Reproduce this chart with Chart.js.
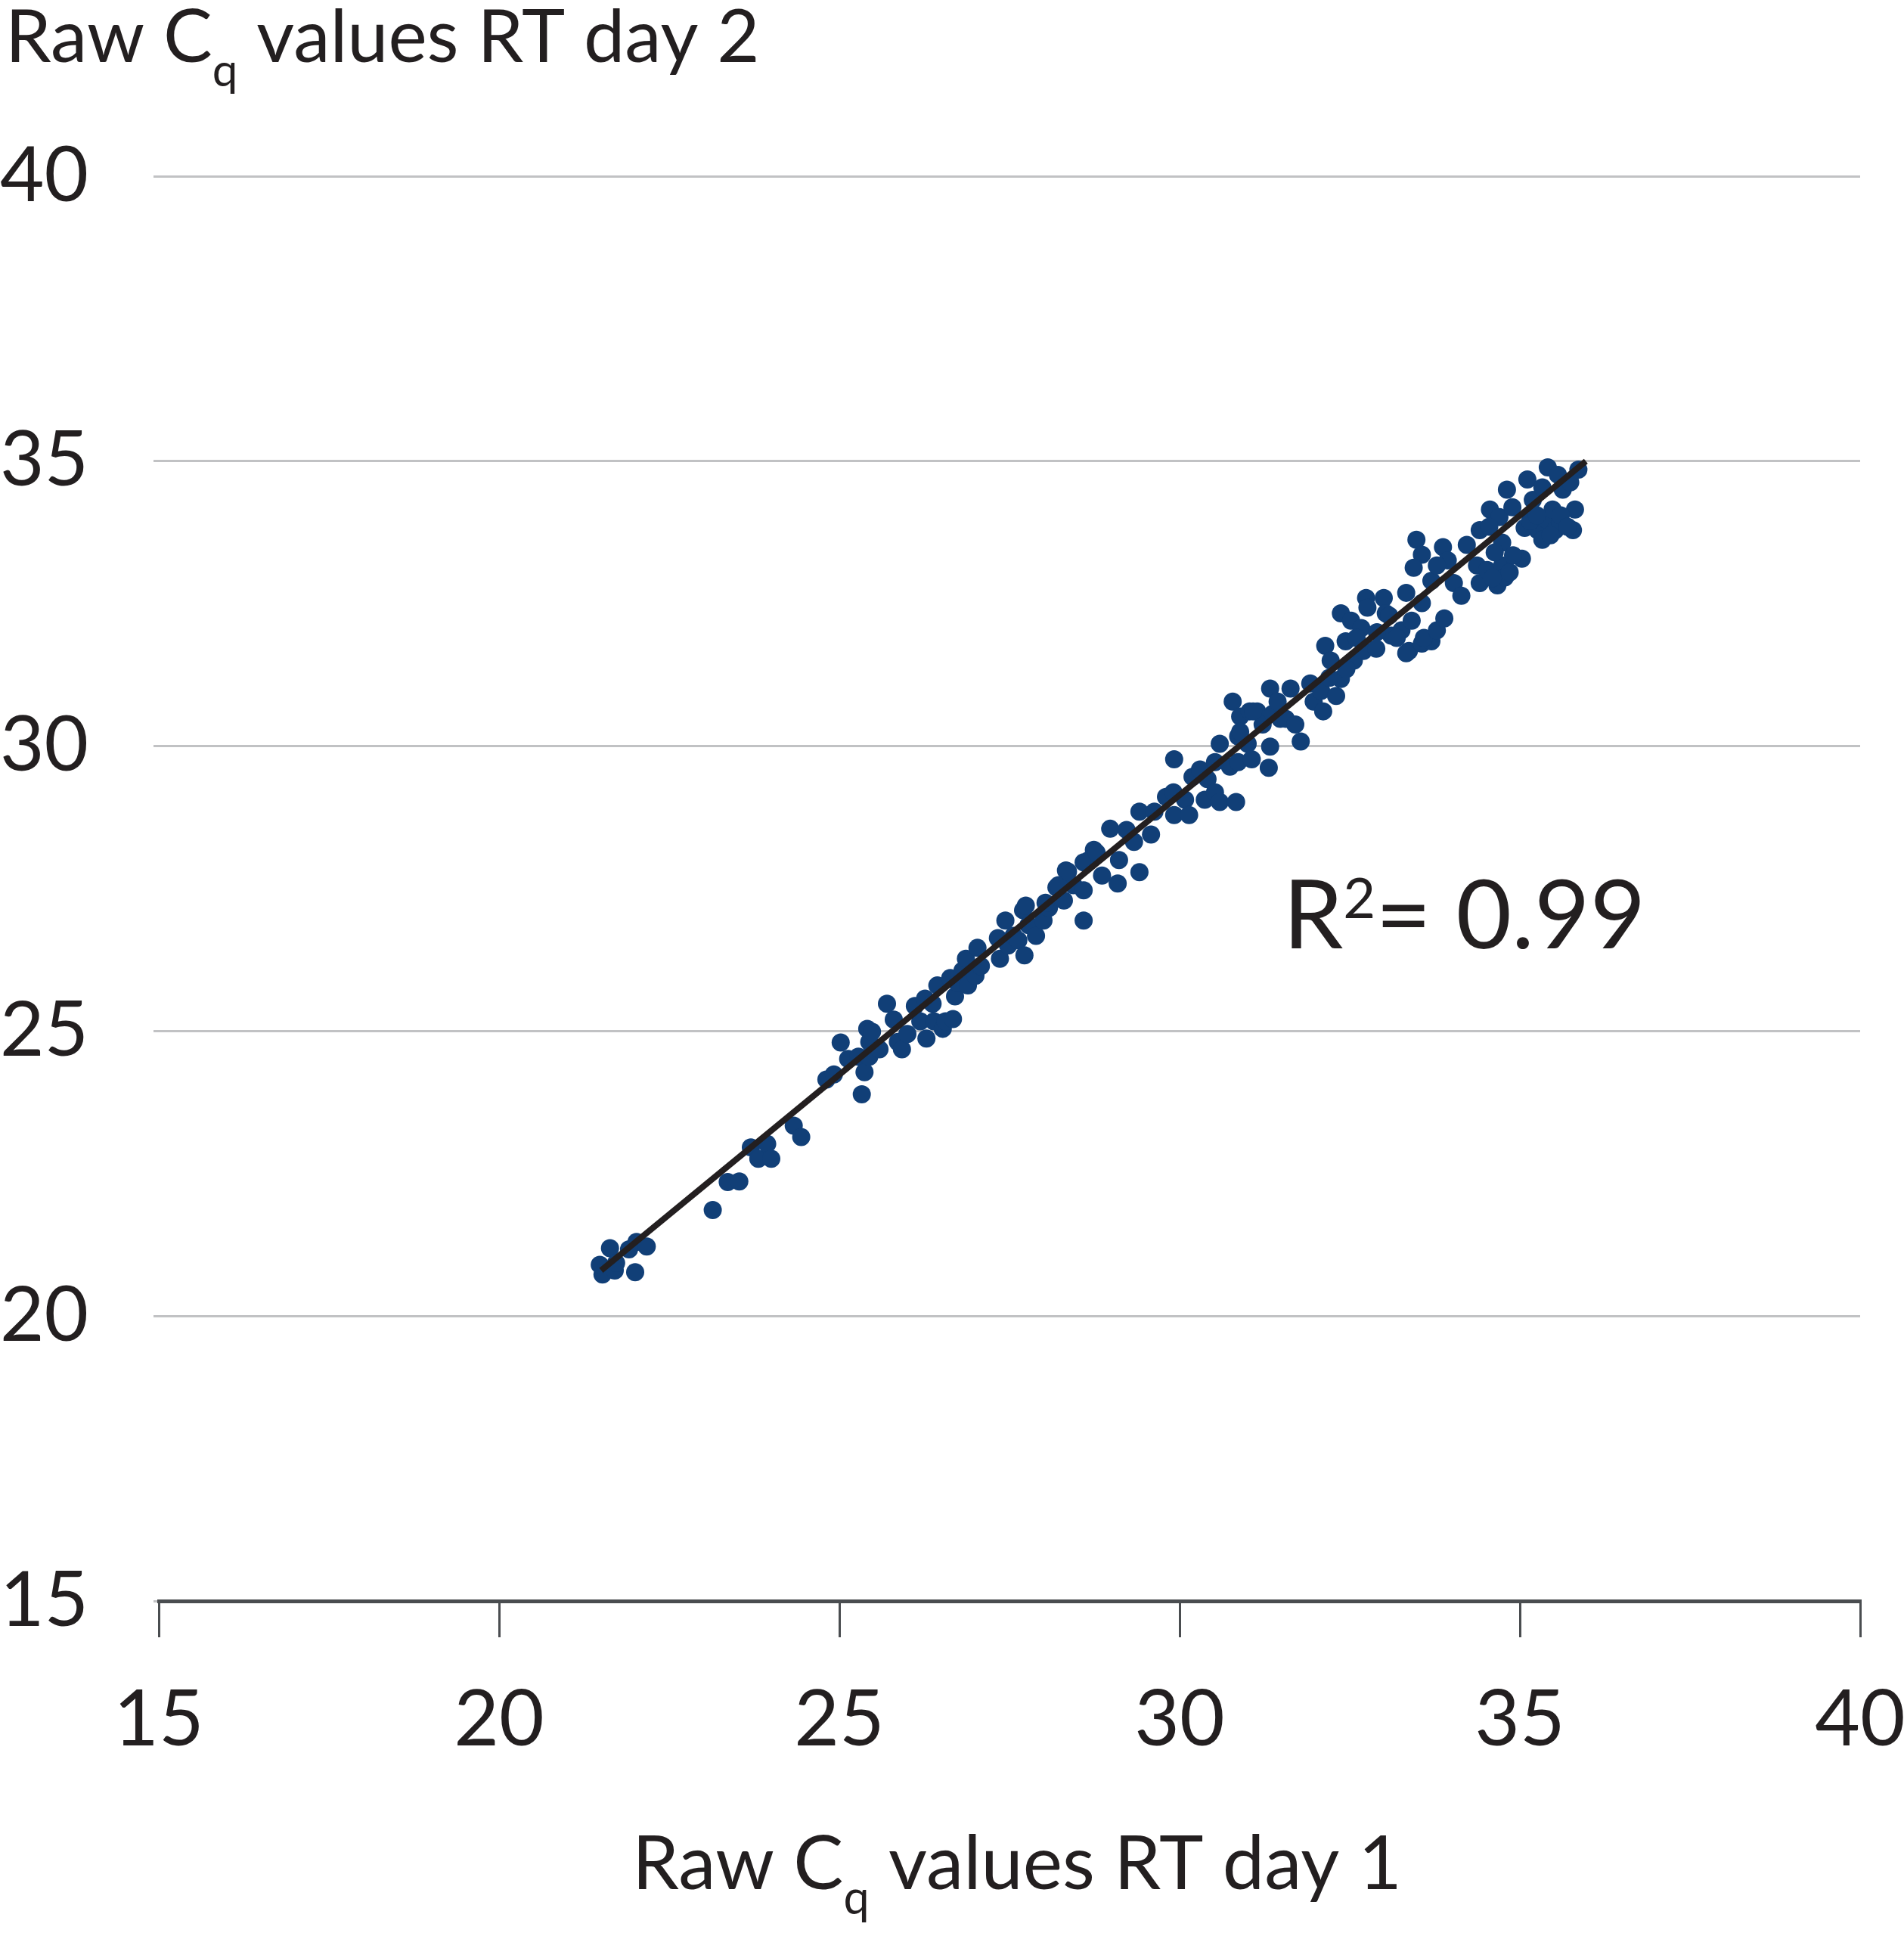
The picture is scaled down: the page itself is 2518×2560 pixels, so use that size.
<!DOCTYPE html>
<html>
<head>
<meta charset="utf-8">
<script src="https://cdn.jsdelivr.net/npm/chart.js@4.4.1/dist/chart.umd.min.js"></script>
<style>
  html, body { margin: 0; padding: 0; background: #fff; }
  canvas { display: block; }
</style>
</head>
<body>
<canvas id="cq" width="2518" height="2560"></canvas>
<script>
// Raw Cq, RT day 1 (x) vs RT day 2 (y)
const day1 = [
  21.52, 21.48, 21.63, 21.70, 21.72, 21.91, 22.02, 22.17, 22.00, 23.14,
  23.36, 23.53, 23.70, 23.81, 23.94, 24.00, 24.33, 24.44, 24.81, 24.92,
  25.02, 25.13, 25.28, 25.33, 25.37, 25.41, 25.44,
  25.48, 25.44, 25.59, 25.70, 25.80, 25.86, 25.92, 26.00, 26.11, 26.19,
  26.26, 26.28, 26.37, 26.39, 26.44, 26.52, 26.56, 26.63, 26.67, 26.70,
  26.74, 26.81, 26.86, 26.89, 27.00, 27.03, 27.08, 27.33, 27.36, 27.44,
  27.48, 27.56, 27.63, 27.70, 27.72, 27.78, 27.89, 28.00, 28.08, 28.19,
  28.30, 28.33, 28.44, 28.59, 28.59, 28.67, 28.74,
  27.74, 28.03, 28.22, 28.36, 28.59, 28.78, 28.86, 29.11, 29.09, 28.98,
  29.22, 29.33, 29.41, 29.41, 29.58, 29.63, 29.80, 29.92, 29.91, 30.08,
  30.14, 30.19, 29.92, 30.30, 30.37, 30.41, 30.52, 30.52, 30.59, 30.59,
  30.74, 30.83, 30.86, 30.86, 30.78, 30.89, 31.00, 31.03, 31.06, 31.14,
  31.22, 31.33, 31.33, 31.31, 31.37, 31.48,
  30.89, 31.08, 31.44, 31.56, 31.63, 31.70, 31.78, 31.92, 31.97, 32.08,
  32.11, 32.14, 32.22, 32.30, 32.37, 32.37, 32.44, 32.52, 32.56, 32.67,
  32.70, 32.74, 32.76, 32.89, 33.00, 33.03, 33.11, 33.26, 33.33, 33.37,
  33.41, 33.48, 33.56, 33.44, 33.56, 33.70, 33.70, 33.56,
  32.20, 32.45, 32.60, 32.90,
  33.87, 33.94, 33.78, 34.03, 34.14, 34.22, 34.41, 34.37, 34.41, 34.52,
  34.67, 34.74, 34.78, 34.74, 34.56, 34.70, 34.81, 34.89, 35.03, 35.07,
  35.11, 35.19, 35.26, 35.33, 35.33, 35.41, 35.41, 35.48, 35.52, 35.56,
  35.59, 35.63, 35.78, 35.81, 35.86, 35.74, 33.08, 33.19, 33.33, 33.59,
  33.78, 33.89,
  35.15, 35.45, 35.60, 35.25, 35.70, 34.63, 34.85, 34.60, 34.90, 34.55
];
const day2 = [
  20.73, 20.90, 21.19, 20.80, 20.93, 21.17, 21.30, 21.22, 20.77, 21.86,
  22.35, 22.36, 22.96, 22.76, 23.02, 22.76, 23.34, 23.14, 24.15, 24.24,
  24.80, 24.51, 24.55, 23.89, 24.28, 25.04, 24.81,
  24.99, 24.55, 24.68, 25.48, 25.20, 24.81, 24.68, 24.95, 25.44, 25.17,
  25.57, 24.87, 25.48, 25.17, 25.80, 25.04, 25.17, 25.93, 25.21, 25.61,
  25.84, 26.06, 26.27, 25.80, 25.97, 26.46, 26.14, 26.63, 26.27, 26.94,
  26.50, 26.67, 26.59, 27.12, 26.33, 26.86, 26.67, 26.94, 27.16, 27.52,
  27.29, 27.82, 27.56, 27.47, 26.94, 28.00, 28.18,
  27.20, 27.25, 27.56, 27.80, 27.96, 28.13, 27.73, 28.00, 27.59, 28.55,
  28.53, 28.32, 27.79, 28.85, 28.45, 28.85, 29.11, 28.79, 29.19, 29.06,
  28.79, 29.46, 29.77, 29.59, 29.06, 29.42, 29.19, 29.72, 30.04, 29.02,
  29.64, 29.02, 30.17, 29.72, 30.78, 30.52, 30.04, 30.61, 29.77, 30.61,
  30.38, 31.01, 29.99, 29.62, 30.57, 30.48,
  30.25, 30.61, 30.78, 30.48, 31.01, 30.38, 30.08, 31.10, 30.78, 30.97,
  30.61, 31.76, 31.50, 30.88, 31.18, 32.33, 31.84, 32.20, 31.50, 32.07,
  31.67, 32.60, 32.43, 31.71, 32.60, 32.33, 31.94, 32.03, 32.69, 31.67,
  32.20, 33.62, 33.36, 33.13, 31.80, 32.90, 31.84, 32.51,
  31.20, 31.35, 31.90, 32.00,
  33.49, 33.26, 33.17, 32.86, 32.64, 33.53, 33.79, 33.17, 32.86, 33.09,
  32.82, 33.17, 32.96, 33.57, 34.15, 34.02, 34.50, 34.19, 33.29, 33.83,
  34.68, 34.32, 33.79, 34.54, 33.62, 34.89, 33.96, 34.15, 33.79, 34.76,
  33.93, 34.50, 33.79, 34.15, 34.85, 34.63, 32.29, 31.90, 31.63, 31.90,
  32.03, 32.24,
  33.95, 33.70, 34.05, 34.05, 33.85, 33.40, 33.05, 32.95, 33.35, 33.85
];

// fitted line ends
const trendDay1 = [21.5, 35.97];
const trendDay2 = [20.8, 35.0];

const xTicks = [15, 20, 25, 30, 35, 40];
const yTicks = [15, 20, 25, 30, 35, 40];

const FONT = 'Lato, "Open Sans", sans-serif';
const INK = '#231f20';

const points = day1.map((v, i) => ({ x: v, y: day2[i] }));
const trend = trendDay1.map((v, i) => ({ x: v, y: trendDay2[i] }));

// draws a run of text pieces (with sub/superscripts) from x on a baseline
function textRun(ctx, parts, x, y, align) {
  let w = 0;
  parts.forEach(p => {
    ctx.font = p.size + 'px ' + FONT;
    w += ctx.measureText(p.t).width;
  });
  if (align === 'center') x -= w / 2;
  parts.forEach(p => {
    ctx.font = p.size + 'px ' + FONT;
    ctx.fillText(p.t, x, y + (p.dy || 0));
    x += ctx.measureText(p.t).width;
  });
}

const labels = {
  id: 'labels',
  afterDraw(chart) {
    const ctx = chart.ctx;
    const xs = chart.scales.x, ys = chart.scales.y;
    ctx.save();
    ctx.fillStyle = INK;
    ctx.textBaseline = 'alphabetic';
    ctx.textAlign = 'left';
    textRun(ctx, [
      { t: 'Raw C', size: 97 },
      { t: 'q', size: 60, dy: 32 },
      { t: ' values RT day 2', size: 97 }
    ], 7, 82);
    textRun(ctx, [
      { t: 'Raw C', size: 99 },
      { t: 'q', size: 61, dy: 33 },
      { t: ' values RT day 1', size: 99 }
    ], 1345, 2498, 'center');
    textRun(ctx, [
      { t: 'R', size: 127 },
      { t: '2', size: 74, dy: -40 },
      { t: '= 0.99', size: 127 }
    ], xs.getPixelForValue(31.52), ys.getPixelForValue(26.45));
    ctx.restore();
  }
};

new Chart(document.getElementById('cq'), {
  type: 'scatter',
  data: {
    datasets: [{
      type: 'line',
      data: trend,
      borderColor: INK,
      borderWidth: 8,
      pointRadius: 0,
      showLine: true,
      fill: false,
      order: 0
    }, {
      data: points,
      backgroundColor: '#113f77',
      borderWidth: 0,
      pointRadius: 12,
      order: 1
    }]
  },
  options: {
    responsive: false,
    devicePixelRatio: 1,
    animation: false,
    layout: { padding: { top: 233, right: 58, left: 0, bottom: 0 } },
    plugins: { legend: { display: false }, tooltip: { enabled: false } },
    scales: {
      x: {
        type: 'linear',
        min: 15,
        max: 40,
        afterBuildTicks: s => { s.ticks = xTicks.map(v => ({ value: v })); },
        afterFit: s => { s.height = 443; s.paddingLeft = 0; s.paddingRight = 0; },
        ticks: { color: INK, font: { family: FONT, size: 103 }, padding: 48, maxRotation: 0 },
        grid: { drawOnChartArea: false, drawTicks: true, tickLength: 48, color: '#4a4d50', lineWidth: 3 },
        border: { display: true, color: '#4a4d50', width: 5 }
      },
      y: {
        type: 'linear',
        min: 15,
        max: 40,
        afterBuildTicks: s => { s.ticks = yTicks.map(v => ({ value: v })); },
        afterFit: s => { s.width = 210; },
        ticks: { color: INK, font: { family: FONT, size: 101 }, crossAlign: 'far', padding: 10 },
        grid: { color: '#c1c2c4', lineWidth: 3, drawTicks: true, tickLength: 7 },
        border: { display: false }
      }
    }
  },
  plugins: [labels]
});
</script>
</body>
</html>
